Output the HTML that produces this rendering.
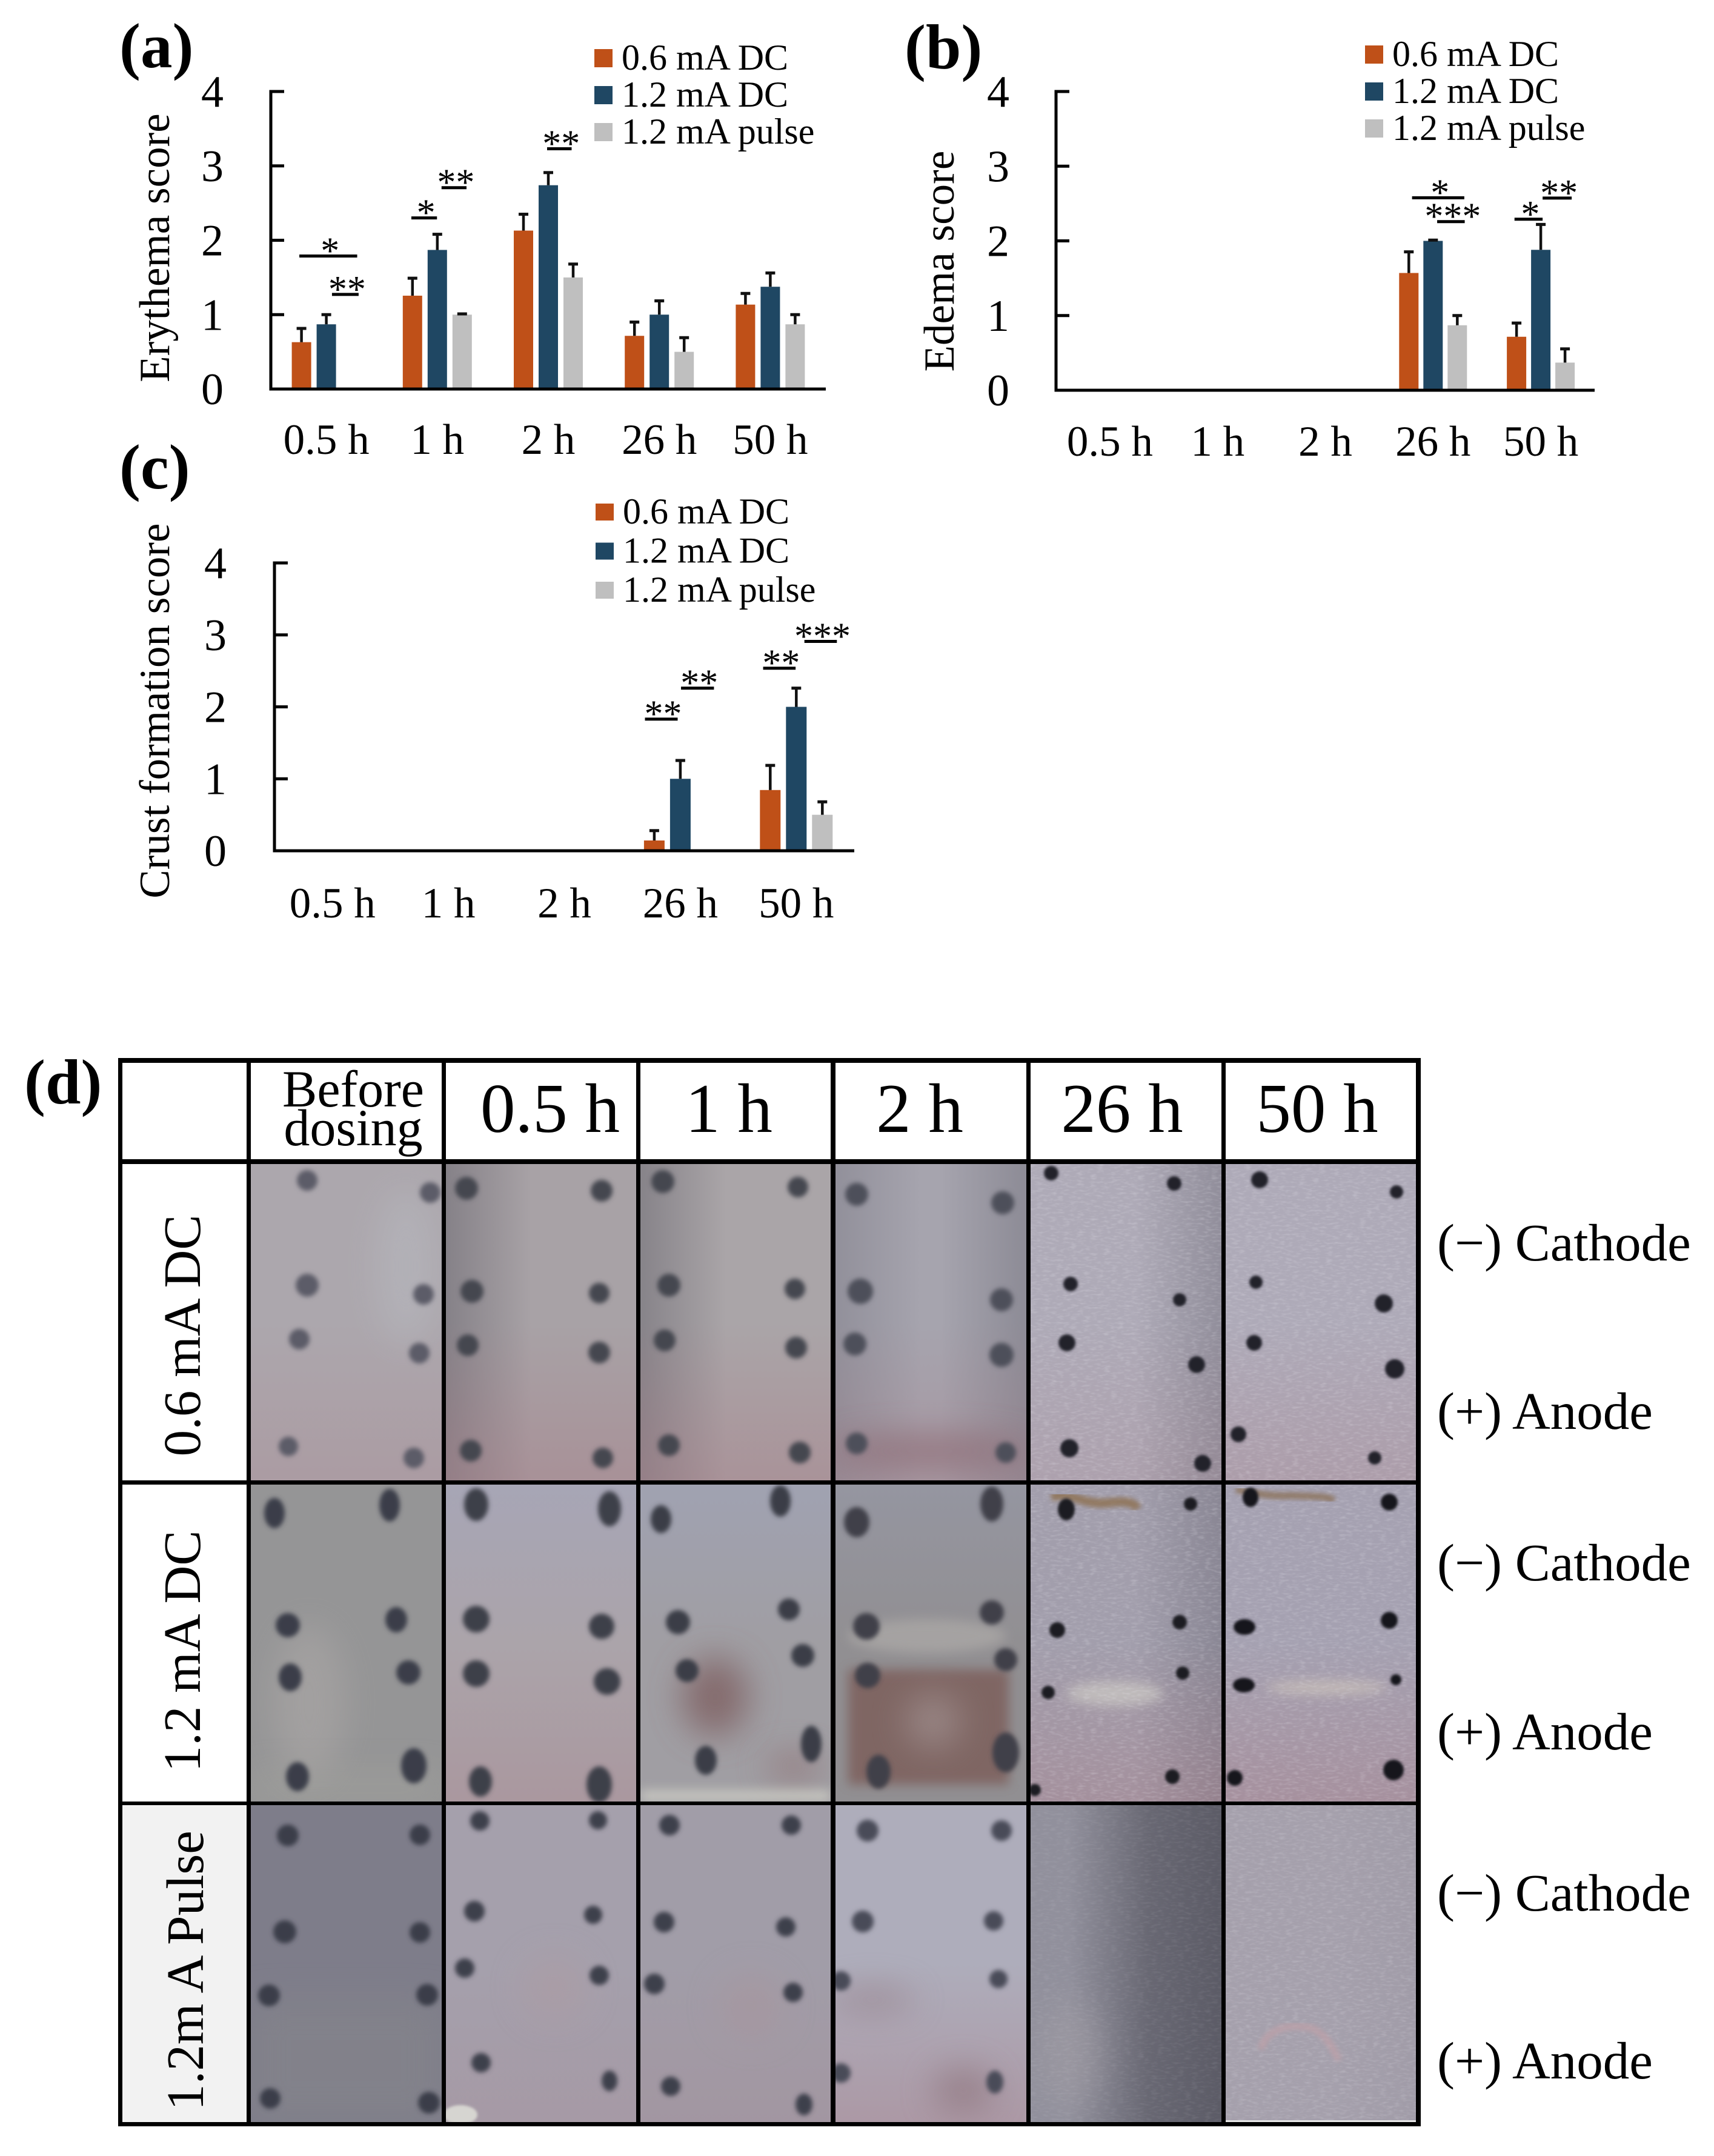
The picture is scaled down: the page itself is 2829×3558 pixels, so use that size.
<!DOCTYPE html>
<html lang="en">
<head>
<meta charset="utf-8">
<title>Skin irritation scores and photographs</title>
<style>
html,body{margin:0;padding:0;background:#fff}
svg#figure{display:block}
svg text{font-family:"Liberation Serif","DejaVu Serif",serif;fill:#000}
</style>
</head>
<body>
<svg id="figure" xmlns="http://www.w3.org/2000/svg" width="2829" height="3558" viewBox="0 0 2829 3558">
<defs>
<filter id="soft" x="-10%" y="-10%" width="120%" height="120%"><feGaussianBlur stdDeviation="3.6"/></filter>
<filter id="softer" x="-10%" y="-10%" width="120%" height="120%"><feGaussianBlur stdDeviation="2"/></filter>
<filter id="smear" x="-30%" y="-300%" width="160%" height="700%"><feGaussianBlur stdDeviation="9"/></filter>
<filter id="blob" x="-200%" y="-300%" width="500%" height="700%"><feGaussianBlur stdDeviation="28"/></filter>
<filter id="grain" x="0" y="0" width="100%" height="100%"><feTurbulence type="fractalNoise" baseFrequency="0.09 0.28" numOctaves="2" seed="4"/><feColorMatrix type="matrix" values="0 0 0 0 .95  0 0 0 0 .95  0 0 0 0 1  0 0 0 1.6 -.72"/></filter>
<linearGradient id="shadeL" x1="0" x2="1" y1="0" y2="0"><stop offset="0" stop-color="#3c3c48" stop-opacity=".32"/><stop offset=".45" stop-color="#3c3c48" stop-opacity="0"/></linearGradient>
<linearGradient id="shadeR" x1="0" x2="1" y1="0" y2="0"><stop offset=".55" stop-color="#3c3c48" stop-opacity="0"/><stop offset="1" stop-color="#3c3c48" stop-opacity=".34"/></linearGradient>
<linearGradient id="shadeRD" x1="0" x2="1" y1="0" y2="0"><stop offset=".2" stop-color="#30303a" stop-opacity="0"/><stop offset=".62" stop-color="#30303a" stop-opacity=".42"/><stop offset="1" stop-color="#30303a" stop-opacity=".55"/></linearGradient>
<linearGradient id="pinkB" x1="0" x2="0" y1="0" y2="1"><stop offset=".5" stop-color="#a87a84" stop-opacity="0"/><stop offset="1" stop-color="#a87a84" stop-opacity=".42"/></linearGradient>
<linearGradient id="blueT" x1="0" x2="0" y1="0" y2="1"><stop offset="0" stop-color="#a0a8c8" stop-opacity=".38"/><stop offset=".5" stop-color="#a0a8c8" stop-opacity="0"/></linearGradient>
</defs>
<rect x="0" y="0" width="2829" height="3558" fill="#ffffff"/>

<g id="charts"></g>

<g>
<rect x="202" y="1921" width="205" height="522" fill="#fff"/>
<rect x="202" y="2450" width="205" height="523" fill="#fff"/>
<rect x="202" y="2979" width="205" height="523" fill="#f2f2f2"/>

<!-- row 1 -->
<svg x="414" y="1921" width="315" height="522" viewBox="414 1921 315 522">
<rect x="414" y="1921" width="315" height="522" fill="#aca7ad"/><rect x="414" y="1921" width="315" height="522" fill="url(#pinkB)" opacity=".6"/>
<ellipse cx="670" cy="2090" rx="50" ry="130" fill="#b5b5bb" opacity=".7" filter="url(#blob)"/>
<g fill="#5c5c68" filter="url(#soft)"><circle cx="507" cy="1948" r="17"/><circle cx="710" cy="1968" r="17"/><circle cx="507" cy="2121" r="19"/><circle cx="699" cy="2136" r="17"/><circle cx="494" cy="2210" r="17"/><circle cx="692" cy="2233" r="17"/><circle cx="476" cy="2387" r="16"/><circle cx="683" cy="2406" r="17"/></g>
</svg>
<svg x="736" y="1921" width="314" height="522" viewBox="736 1921 314 522">
<rect x="736" y="1921" width="314" height="522" fill="#a8a2a6"/><rect x="736" y="1921" width="314" height="522" fill="url(#shadeL)"/><rect x="736" y="1921" width="314" height="522" fill="url(#pinkB)"/>
<g fill="#454650" filter="url(#soft)"><circle cx="770" cy="1961" r="19"/><circle cx="993" cy="1965" r="18"/><circle cx="779" cy="2131" r="19"/><circle cx="989" cy="2134" r="17"/><circle cx="772" cy="2220" r="18"/><circle cx="989" cy="2232" r="18"/><circle cx="777" cy="2394" r="18"/><circle cx="995" cy="2406" r="17"/></g>
</svg>
<svg x="1057" y="1921" width="314" height="522" viewBox="1057 1921 314 522">
<rect x="1057" y="1921" width="314" height="522" fill="#aaa5a8"/><rect x="1057" y="1921" width="314" height="522" fill="url(#shadeL)"/><rect x="1057" y="1921" width="314" height="522" fill="url(#pinkB)"/>
<g fill="#454650" filter="url(#soft)"><circle cx="1094" cy="1950" r="19"/><circle cx="1317" cy="1959" r="17"/><circle cx="1104" cy="2121" r="19"/><circle cx="1312" cy="2127" r="17"/><circle cx="1097" cy="2212" r="18"/><circle cx="1314" cy="2224" r="18"/><circle cx="1104" cy="2385" r="18"/><circle cx="1320" cy="2397" r="18"/></g>
</svg>
<svg x="1379" y="1921" width="315" height="522" viewBox="1379 1921 315 522">
<rect x="1379" y="1921" width="315" height="522" fill="#a6a4ae"/><rect x="1379" y="1921" width="315" height="522" fill="url(#shadeL)" opacity=".6"/><rect x="1379" y="1921" width="315" height="522" fill="url(#shadeR)" opacity=".7"/><rect x="1379" y="1921" width="315" height="522" fill="url(#pinkB)" opacity=".7"/>
<ellipse cx="1536" cy="2395" rx="170" ry="24" fill="#8b6670" opacity=".75" filter="url(#blob)"/>
<g fill="#4e4f5a" filter="url(#soft)"><circle cx="1414" cy="1971" r="19"/><circle cx="1655" cy="1985" r="19"/><circle cx="1420" cy="2131" r="21"/><circle cx="1653" cy="2145" r="19"/><circle cx="1411" cy="2218" r="19"/><circle cx="1653" cy="2236" r="20"/><circle cx="1414" cy="2382" r="18"/><circle cx="1660" cy="2397" r="17"/></g>
</svg>
<svg x="1701" y="1921" width="315" height="522" viewBox="1701 1921 315 522">
<rect x="1701" y="1921" width="315" height="522" fill="#aeaab7"/><rect x="1701" y="1921" width="315" height="522" fill="url(#shadeR)" opacity=".75"/><rect x="1701" y="1921" width="315" height="522" fill="url(#pinkB)" opacity=".45"/>
<rect x="1701" y="1921" width="315" height="522" filter="url(#grain)" opacity=".28"/>
<g fill="#22222c" filter="url(#softer)"><circle cx="1735" cy="1936" r="12"/><circle cx="1938" cy="1953" r="12"/><circle cx="1767" cy="2119" r="12"/><circle cx="1947" cy="2145" r="11"/><circle cx="1761" cy="2216" r="14"/><circle cx="1975" cy="2252" r="14"/><circle cx="1765" cy="2390" r="15"/><circle cx="1985" cy="2415" r="14"/></g>
</svg>
<svg x="2023" y="1921" width="314" height="522" viewBox="2023 1921 314 522">
<rect x="2023" y="1921" width="314" height="522" fill="#aeaab8"/><rect x="2023" y="1921" width="314" height="522" fill="url(#pinkB)" opacity=".65"/>
<rect x="2023" y="1921" width="314" height="522" filter="url(#grain)" opacity=".28"/>
<g fill="#22222c" filter="url(#softer)"><circle cx="2079" cy="1947" r="14"/><circle cx="2305" cy="1967" r="11"/><circle cx="2073" cy="2116" r="11"/><circle cx="2284" cy="2151" r="15"/><circle cx="2070" cy="2216" r="13"/><circle cx="2302" cy="2259" r="16"/><circle cx="2044" cy="2367" r="13"/><circle cx="2269" cy="2406" r="11"/></g>
</svg>

<!-- row 2 -->
<svg x="414" y="2450" width="315" height="523" viewBox="414 2450 315 523">
<rect x="414" y="2450" width="315" height="523" fill="#959596"/>
<ellipse cx="510" cy="2810" rx="60" ry="130" fill="#a8a5a4" opacity=".7" filter="url(#blob)"/>
<rect x="414" y="2930" width="315" height="43" fill="#a5a59e" opacity=".5" filter="url(#blob)"/>
<g fill="#3b3d48" filter="url(#soft)"><ellipse cx="453" cy="2497" rx="17" ry="25"/><ellipse cx="643" cy="2484" rx="17" ry="27"/><circle cx="475" cy="2682" r="20"/><ellipse cx="654" cy="2673" rx="18" ry="21"/><ellipse cx="479" cy="2768" rx="19" ry="23"/><circle cx="674" cy="2760" r="20"/><ellipse cx="491" cy="2932" rx="19" ry="24"/><ellipse cx="683" cy="2914" rx="21" ry="29"/></g>
</svg>
<svg x="736" y="2450" width="314" height="523" viewBox="736 2450 314 523">
<rect x="736" y="2450" width="314" height="523" fill="#aba4aa"/><rect x="736" y="2450" width="314" height="523" fill="url(#blueT)"/><rect x="736" y="2450" width="314" height="523" fill="url(#pinkB)" opacity=".7"/>
<g fill="#3d3f4a" filter="url(#soft)"><ellipse cx="786" cy="2483" rx="20" ry="27"/><ellipse cx="1006" cy="2490" rx="19" ry="29"/><circle cx="786" cy="2672" r="22"/><circle cx="993" cy="2684" r="21"/><circle cx="786" cy="2762" r="22"/><circle cx="1002" cy="2775" r="22"/><ellipse cx="793" cy="2940" rx="19" ry="25"/><ellipse cx="989" cy="2945" rx="21" ry="30"/></g>
</svg>
<svg x="1057" y="2450" width="314" height="523" viewBox="1057 2450 314 523">
<rect x="1057" y="2450" width="314" height="523" fill="#a09ea3"/><rect x="1057" y="2450" width="314" height="523" fill="url(#blueT)"/>
<ellipse cx="1180" cy="2800" rx="55" ry="65" fill="#7e5f60" opacity=".8" filter="url(#blob)"/><ellipse cx="1310" cy="2915" rx="45" ry="20" fill="#8f6f72" opacity=".8" filter="url(#blob)"/>
<rect x="1057" y="2955" width="314" height="18" fill="#d4d4ca" opacity=".8" filter="url(#smear)"/>
<g fill="#3b3d47" filter="url(#soft)"><ellipse cx="1091" cy="2507" rx="17" ry="23"/><ellipse cx="1288" cy="2477" rx="17" ry="26"/><circle cx="1119" cy="2677" r="20"/><circle cx="1302" cy="2656" r="18"/><circle cx="1134" cy="2757" r="19"/><circle cx="1325" cy="2732" r="19"/><ellipse cx="1165" cy="2905" rx="18" ry="24"/><ellipse cx="1339" cy="2878" rx="17" ry="30"/></g>
</svg>
<svg x="1379" y="2450" width="315" height="523" viewBox="1379 2450 315 523">
<rect x="1379" y="2450" width="315" height="523" fill="#918f92"/><rect x="1379" y="2450" width="315" height="523" fill="url(#blueT)" opacity=".7"/>
<ellipse cx="1530" cy="2700" rx="130" ry="28" fill="#aaa7a6" opacity=".8" filter="url(#smear)"/>
<rect x="1400" y="2755" width="265" height="190" fill="#7e625f" opacity=".9" filter="url(#smear)"/>
<ellipse cx="1540" cy="2840" rx="45" ry="45" fill="#a39393" opacity=".7" filter="url(#blob)"/>
<g fill="#3f404a" filter="url(#soft)"><ellipse cx="1414" cy="2512" rx="21" ry="25"/><ellipse cx="1637" cy="2482" rx="19" ry="29"/><circle cx="1430" cy="2684" r="22"/><circle cx="1637" cy="2661" r="20"/><circle cx="1432" cy="2765" r="21"/><circle cx="1660" cy="2739" r="19"/><ellipse cx="1450" cy="2924" rx="20" ry="28"/><ellipse cx="1660" cy="2892" rx="22" ry="33"/></g>
</svg>
<svg x="1701" y="2450" width="315" height="523" viewBox="1701 2450 315 523">
<rect x="1701" y="2450" width="315" height="523" fill="#a29eac"/><rect x="1701" y="2450" width="315" height="523" fill="url(#shadeR)" opacity=".7"/><rect x="1701" y="2450" width="315" height="523" fill="url(#pinkB)" opacity=".9"/>
<ellipse cx="1840" cy="2795" rx="80" ry="20" fill="#c5c1bf" opacity=".85" filter="url(#smear)"/>
<rect x="1701" y="2450" width="315" height="523" filter="url(#grain)" opacity=".28"/>
<path d="M1735 2470 C1770 2462 1790 2485 1830 2480 C1860 2476 1872 2480 1878 2490" fill="none" stroke="#8d6f50" stroke-width="15" opacity=".8" filter="url(#soft)"/>
<g fill="#1a1a22" filter="url(#softer)"><ellipse cx="1760" cy="2491" rx="14" ry="18"/><circle cx="1965" cy="2482" r="11"/><circle cx="1745" cy="2690" r="13"/><circle cx="1947" cy="2677" r="12"/><circle cx="1952" cy="2761" r="11"/><circle cx="1730" cy="2793" r="11"/><circle cx="1935" cy="2932" r="12"/><circle cx="1708" cy="2954" r="10"/></g>
</svg>
<svg x="2023" y="2450" width="314" height="523" viewBox="2023 2450 314 523">
<rect x="2023" y="2450" width="314" height="523" fill="#a5a1b1"/><rect x="2023" y="2450" width="314" height="523" fill="url(#pinkB)"/>
<ellipse cx="2190" cy="2785" rx="100" ry="12" fill="#c5bcb8" opacity=".85" filter="url(#smear)"/>
<rect x="2023" y="2450" width="314" height="523" filter="url(#grain)" opacity=".28"/>
<path d="M2040 2458 C2080 2466 2100 2470 2130 2468 C2160 2470 2190 2468 2202 2476" fill="none" stroke="#8a7054" stroke-width="11" opacity=".8" filter="url(#soft)"/>
<g fill="#18181f" filter="url(#softer)"><ellipse cx="2064" cy="2471" rx="13" ry="16"/><circle cx="2293" cy="2479" r="14"/><ellipse cx="2054" cy="2685" rx="18" ry="13"/><circle cx="2293" cy="2674" r="14"/><ellipse cx="2053" cy="2781" rx="18" ry="12"/><circle cx="2304" cy="2772" r="9"/><circle cx="2300" cy="2921" r="17"/><circle cx="2038" cy="2934" r="13"/></g>
</svg>

<!-- row 3 -->
<svg x="414" y="2979" width="315" height="523" viewBox="414 2979 315 523">
<rect x="414" y="2979" width="315" height="523" fill="#7e7d8a"/>
<rect x="414" y="3300" width="315" height="202" fill="#85858b" opacity=".6" filter="url(#blob)"/>
<g fill="#3b3d49" filter="url(#soft)"><circle cx="475" cy="3029" r="18"/><circle cx="693" cy="3028" r="17"/><circle cx="470" cy="3188" r="19"/><circle cx="693" cy="3189" r="17"/><circle cx="444" cy="3293" r="18"/><circle cx="705" cy="3292" r="18"/><circle cx="446" cy="3463" r="17"/><circle cx="708" cy="3470" r="18"/></g>
</svg>
<svg x="736" y="2979" width="314" height="523" viewBox="736 2979 314 523">
<rect x="736" y="2979" width="314" height="523" fill="#a5a0ac"/><rect x="736" y="2979" width="314" height="523" fill="url(#pinkB)" opacity=".4"/>
<ellipse cx="915" cy="3280" rx="50" ry="50" fill="#ad9ba3" opacity=".6" filter="url(#blob)"/>
<ellipse cx="760" cy="3490" rx="28" ry="16" fill="#dcdcd6" filter="url(#softer)" opacity=".9"/>
<g fill="#3d3f4c" filter="url(#soft)"><circle cx="792" cy="3005" r="16"/><circle cx="987" cy="3004" r="15"/><circle cx="783" cy="3154" r="17"/><circle cx="979" cy="3160" r="15"/><circle cx="767" cy="3248" r="16"/><circle cx="989" cy="3260" r="16"/><circle cx="794" cy="3404" r="16"/><ellipse cx="1006" cy="3434" rx="13" ry="17"/></g>
</svg>
<svg x="1057" y="2979" width="314" height="523" viewBox="1057 2979 314 523">
<rect x="1057" y="2979" width="314" height="523" fill="#a19da8"/><rect x="1057" y="2979" width="314" height="523" fill="url(#pinkB)" opacity=".45"/>
<ellipse cx="1240" cy="3310" rx="50" ry="50" fill="#a8959d" opacity=".6" filter="url(#blob)"/>
<g fill="#3d3f4c" filter="url(#soft)"><circle cx="1105" cy="3012" r="17"/><circle cx="1306" cy="3012" r="16"/><circle cx="1096" cy="3172" r="17"/><circle cx="1297" cy="3180" r="16"/><circle cx="1080" cy="3274" r="17"/><circle cx="1309" cy="3288" r="16"/><circle cx="1107" cy="3443" r="16"/><ellipse cx="1327" cy="3473" rx="14" ry="18"/></g>
</svg>
<svg x="1379" y="2979" width="315" height="523" viewBox="1379 2979 315 523">
<rect x="1379" y="2979" width="315" height="523" fill="#aeadbb"/><rect x="1379" y="2979" width="315" height="523" fill="url(#pinkB)" opacity=".95"/>
<ellipse cx="1440" cy="3300" rx="70" ry="18" fill="#8f767e" opacity=".6" filter="url(#blob)"/><ellipse cx="1590" cy="3450" rx="50" ry="36" fill="#8f767e" opacity=".7" filter="url(#blob)"/>
<g fill="#494b58" filter="url(#soft)"><circle cx="1432" cy="3021" r="18"/><circle cx="1653" cy="3021" r="17"/><circle cx="1424" cy="3171" r="18"/><circle cx="1640" cy="3170" r="16"/><circle cx="1648" cy="3266" r="15"/><circle cx="1388" cy="3269" r="16"/><ellipse cx="1642" cy="3436" rx="14" ry="19"/><circle cx="1388" cy="3421" r="16"/></g>
</svg>
<svg x="1701" y="2979" width="315" height="523" viewBox="1701 2979 315 523">
<rect x="1701" y="2979" width="315" height="523" fill="#91909c"/><rect x="1701" y="2979" width="315" height="523" fill="url(#shadeRD)"/>
<ellipse cx="1765" cy="3390" rx="50" ry="90" fill="#9d9aa2" opacity=".7" filter="url(#blob)"/>
<rect x="1701" y="2979" width="315" height="523" filter="url(#grain)" opacity=".12"/>
</svg>
<svg x="2023" y="2979" width="314" height="523" viewBox="2023 2979 314 523">
<rect x="2023" y="2979" width="314" height="523" fill="#a5a0ac"/><rect x="2023" y="2979" width="314" height="523" fill="url(#shadeR)" opacity=".12"/>
<rect x="2023" y="2979" width="314" height="523" filter="url(#grain)" opacity=".24"/>
<path d="M2082 3382 C2085 3355 2120 3340 2150 3345 C2180 3345 2195 3370 2210 3400" fill="none" stroke="#bda0a8" stroke-width="12" opacity=".75" filter="url(#soft)"/>
<rect x="2023" y="3499" width="314" height="3" fill="#e6e6e6"/>
</svg>

<!-- grid lines -->
<g fill="#000">
<rect x="195" y="1746" width="2150" height="8"/>
<rect x="195" y="1913" width="2150" height="8"/>
<rect x="195" y="2443" width="2150" height="7"/>
<rect x="195" y="2973" width="2150" height="6"/>
<rect x="195" y="3502" width="2150" height="7"/>
<rect x="195" y="1746" width="7" height="1763"/>
<rect x="407" y="1746" width="7" height="1763"/>
<rect x="729" y="1746" width="7" height="1763"/>
<rect x="1050" y="1746" width="7" height="1763"/>
<rect x="1371" y="1746" width="8" height="1763"/>
<rect x="1694" y="1746" width="7" height="1763"/>
<rect x="2016" y="1746" width="7" height="1763"/>
<rect x="2337" y="1746" width="8" height="1763"/>
</g>

<text x="583" y="1826" font-size="86" text-anchor="middle">Before</text>
<text x="583" y="1890" font-size="86" text-anchor="middle">dosing</text>
<text x="908" y="1868" font-size="115" text-anchor="middle">0.5 h</text>
<text x="1203" y="1868" font-size="115" text-anchor="middle">1 h</text>
<text x="1518" y="1868" font-size="115" text-anchor="middle">2 h</text>
<text x="1852" y="1868" font-size="115" text-anchor="middle">26 h</text>
<text x="2174" y="1868" font-size="115" text-anchor="middle">50 h</text>

<text transform="translate(330,2204) rotate(-90)" font-size="87" text-anchor="middle">0.6 mA DC</text>
<text transform="translate(330,2725) rotate(-90)" font-size="87" text-anchor="middle">1.2 mA DC</text>
<text transform="translate(335,3252) rotate(-90)" font-size="87" text-anchor="middle">1.2m A Pulse</text>

<text x="2372" y="2080" font-size="87">(−) Cathode</text>
<text x="2372" y="2358" font-size="87">(+) Anode</text>
<text x="2372" y="2608" font-size="87">(−) Cathode</text>
<text x="2372" y="2887" font-size="87">(+) Anode</text>
<text x="2372" y="3153" font-size="87">(−) Cathode</text>
<text x="2372" y="3430" font-size="87">(+) Anode</text>
</g>

<text x="197" y="111" font-size="105" font-weight="bold">(a)</text>
<text x="1493" y="113" font-size="105" font-weight="bold">(b)</text>
<text x="197" y="806" font-size="105" font-weight="bold">(c)</text>
<text x="40" y="1821" font-size="105" font-weight="bold">(d)</text>
</svg>

<script>
const categories = ['0.5 h', '1 h', '2 h', '26 h', '50 h'];
const seriesNames = ['0.6 mA DC', '1.2 mA DC', '1.2 mA pulse'];
const tickLabels = [0, 1, 2, 3, 4];

const erythemaDc06 = [0.63, 1.255, 2.13, 0.715, 1.135];
const erythemaDc12 = [0.87, 1.87, 2.74, 1.0, 1.375];
const erythemaPulse = [0, 1.0, 1.5, 0.5, 0.87];
const erythemaErrDc06 = [0.185, 0.235, 0.22, 0.185, 0.15];
const erythemaErrDc12 = [0.13, 0.21, 0.17, 0.185, 0.185];
const erythemaErrPulse = [0, 0.01, 0.18, 0.19, 0.13];

const edemaDc06 = [0, 0, 0, 1.57, 0.716];
const edemaDc12 = [0, 0, 0, 2.0, 1.88];
const edemaPulse = [0, 0, 0, 0.87, 0.37];
const edemaErrDc06 = [0, 0, 0, 0.283, 0.184];
const edemaErrDc12 = [0, 0, 0, 0.01, 0.34];
const edemaErrPulse = [0, 0, 0, 0.13, 0.184];

const crustDc06 = [0, 0, 0, 0.143, 0.844];
const crustDc12 = [0, 0, 0, 1.0, 2.0];
const crustPulse = [0, 0, 0, 0, 0.5];
const crustErrDc06 = [0, 0, 0, 0.137, 0.342];
const crustErrDc12 = [0, 0, 0, 0.255, 0.26];
const crustErrPulse = [0, 0, 0, 0, 0.18];

/* significance brackets, in category-band units and score units */
const erythemaSigFrom = [0.257, 0.551, 1.266, 1.538, 2.489];
const erythemaSigTo = [0.778, 0.791, 1.497, 1.763, 2.71];
const erythemaSigScore = [1.788, 1.272, 2.30, 2.707, 3.23];
const erythemaSigLabel = ['*', '**', '*', '**', '**'];

const edemaSigFrom = [3.305, 3.538, 4.256, 4.517];
const edemaSigTo = [3.79, 3.794, 4.517, 4.787];
const edemaSigScore = [2.577, 2.258, 2.29, 2.573];
const edemaSigLabel = ['*', '***', '*', '**'];

const crustSigFrom = [3.195, 3.506, 4.214, 4.57];
const crustSigTo = [3.477, 3.79, 4.494, 4.85];
const crustSigScore = [1.83, 2.26, 2.537, 2.91];
const crustSigLabel = ['**', '**', '**', '***'];

const SVG_NS = 'http://www.w3.org/2000/svg';
const seriesColors = ['#BF5018', '#1F4763', '#BFBFBF'];
const chartsRoot = document.getElementById('charts');

function mk(tag, attrs, parent) {
  const el = document.createElementNS(SVG_NS, tag);
  for (const k in attrs) el.setAttribute(k, attrs[k]);
  parent.appendChild(el);
  return el;
}

function drawChart(cfg) {
  const band = (cfg.x1 - cfg.x0) / categories.length;
  const xBand = u => cfg.x0 + u * band;
  const xCat = i => xBand(i + 0.5);
  const yVal = v => cfg.yZero - (v / 4) * (cfg.yZero - cfg.yTop);

  const g = mk('g', {}, chartsRoot);
  
  

  cfg.series.forEach((vals, s) => {
    vals.forEach((v, i) => {
      const cx = xCat(i) + (s - 1) * cfg.offset;
      const bar = mk('rect', {x: cx - cfg.barW / 2, y: yVal(v), width: cfg.barW, height: cfg.yZero - yVal(v), fill: seriesColors[s]}, g);
      
      
      const e = cfg.errors[s][i];
      if (e > 0) {
        const top = yVal(v + e);
        const stem = mk('line', {x1: cx, x2: cx, y1: yVal(v), y2: top, stroke: '#111', 'stroke-width': 4.5}, g);
        
        
        const cap = mk('line', {x1: cx - 8, x2: cx + 8, y1: top, y2: top, stroke: '#111', 'stroke-width': 5}, g);
        
        
      }
    });
  });

  const yAxis = mk('line', {x1: cfg.x0, x2: cfg.x0, y1: cfg.yTop - 2.5, y2: cfg.yZero + 2.5, stroke: '#000', 'stroke-width': 5}, g);
  
  
  const xAxis = mk('line', {x1: cfg.x0 - 2, x2: cfg.x1, y1: cfg.yZero, y2: cfg.yZero, stroke: '#000', 'stroke-width': 5}, g);
  
  

  tickLabels.forEach(t => {
    const y = yVal(t);
    if (t > 0) {
      const tick = mk('line', {x1: cfg.x0, x2: cfg.x0 + 22, y1: y, y2: y, stroke: '#000', 'stroke-width': 5}, g);
      
      
    }
    const lab = mk('text', {x: cfg.tickX, y: y + 25, 'font-size': 74, 'text-anchor': 'end'}, g);
    lab.textContent = t;
    
    
  });

  categories.forEach((c, i) => {
    const lab = mk('text', {x: xCat(i), y: cfg.catY, 'font-size': 71, 'text-anchor': 'middle'}, g);
    lab.textContent = c;
    
    
  });

  const title = mk('text', {transform: 'translate(' + cfg.titleX + ',' + cfg.titleY + ') rotate(-90)', 'font-size': 71, 'text-anchor': 'middle'}, g);
  title.textContent = cfg.title;
  
  

  cfg.sigFrom.forEach((u, i) => {
    const y = yVal(cfg.sigScore[i]);
    const line = mk('line', {x1: xBand(u), x2: xBand(cfg.sigTo[i]), y1: y, y2: y, stroke: '#000', 'stroke-width': 5}, g);
    
    
    const star = mk('text', {x: (xBand(u) + xBand(cfg.sigTo[i])) / 2 + 3, y: y + 12, 'font-size': 62, 'text-anchor': 'middle'}, g);
    star.textContent = cfg.sigLabel[i];
    
    
  });

  seriesNames.forEach((n, s) => {
    const swatch = mk('rect', {x: cfg.legendX, y: cfg.legendY + s * cfg.legendStep, width: 30, height: cfg.swatchH, fill: seriesColors[s]}, g);
    
    
    const lab = mk('text', {x: cfg.legendX + 45, y: cfg.legendY + s * cfg.legendStep + cfg.legendBase, 'font-size': 60}, g);
    lab.textContent = n;
    
    
  });
}

drawChart({
  name: 'erythema', title: 'Erythema score',
  series: [erythemaDc06, erythemaDc12, erythemaPulse],
  errors: [erythemaErrDc06, erythemaErrDc12, erythemaErrPulse],
  sigFrom: erythemaSigFrom, sigTo: erythemaSigTo, sigScore: erythemaSigScore, sigLabel: erythemaSigLabel,
  x0: 447, x1: 1363, yTop: 151, yZero: 642, barW: 32, offset: 41,
  tickX: 369, catY: 749, titleX: 279, titleY: 409,
  legendX: 981, legendY: 81, legendStep: 61, swatchH: 30, legendBase: 34
});
drawChart({
  name: 'edema', title: 'Edema score',
  series: [edemaDc06, edemaDc12, edemaPulse],
  errors: [edemaErrDc06, edemaErrDc12, edemaErrPulse],
  sigFrom: edemaSigFrom, sigTo: edemaSigTo, sigScore: edemaSigScore, sigLabel: edemaSigLabel,
  x0: 1743, x1: 2632, yTop: 151, yZero: 644, barW: 32, offset: 40,
  tickX: 1666, catY: 752, titleX: 1574, titleY: 431,
  legendX: 2253, legendY: 75, legendStep: 61, swatchH: 30, legendBase: 34
});
drawChart({
  name: 'crust', title: 'Crust formation score',
  series: [crustDc06, crustDc12, crustPulse],
  errors: [crustErrDc06, crustErrDc12, crustErrPulse],
  sigFrom: crustSigFrom, sigTo: crustSigTo, sigScore: crustSigScore, sigLabel: crustSigLabel,
  x0: 453, x1: 1410, yTop: 929, yZero: 1404, barW: 34, offset: 43,
  tickX: 374, catY: 1514, titleX: 279, titleY: 1173,
  legendX: 983, legendY: 831, legendStep: 64.5, swatchH: 28, legendBase: 33
});
</script>
</body>
</html>
